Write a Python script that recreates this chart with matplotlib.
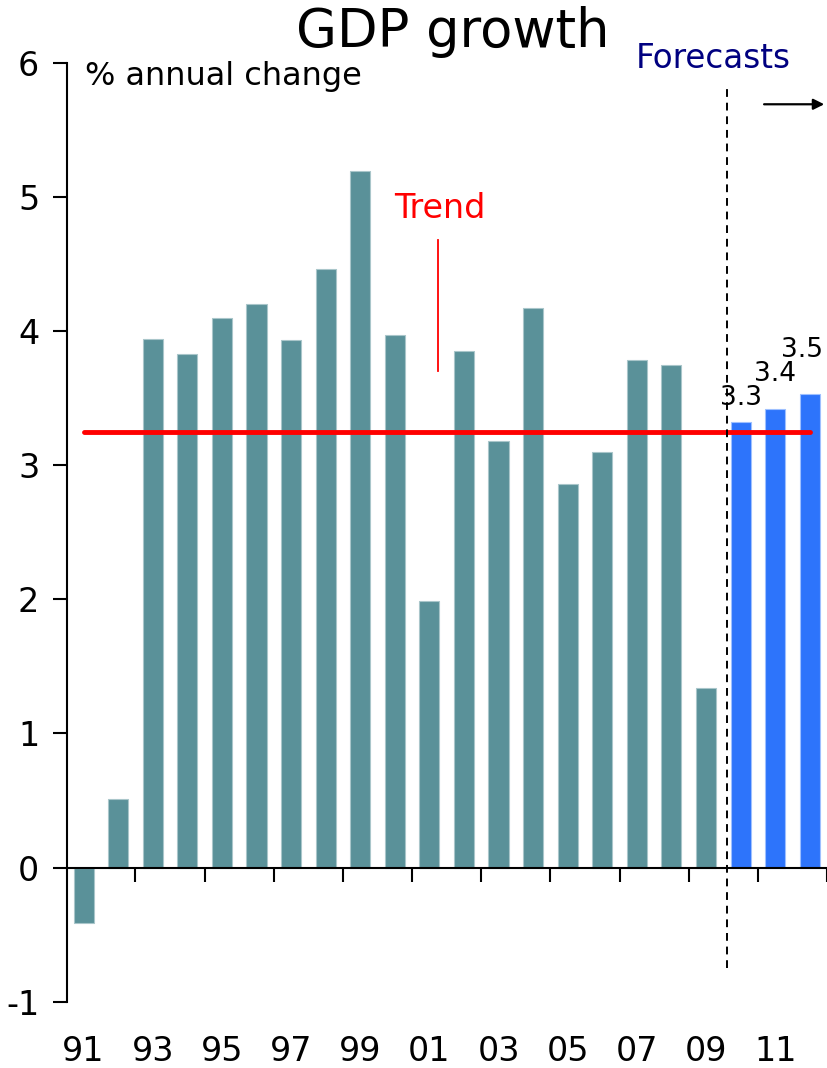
import numpy as np
import matplotlib.pyplot as plt
from matplotlib.transforms import blended_transform_factory

# ---- data ----
years = np.arange(1991, 2013)
growth = [-0.41, 0.51, 3.94, 3.83, 4.10, 4.20, 3.93, 4.46, 5.19, 3.97, 1.99,
          3.85, 3.18, 4.17, 2.86, 3.10, 3.78, 3.75, 1.34, 3.32, 3.42, 3.53]
forecast_from = 2010
forecast_labels = ["3.3", "3.4", "3.5"]
trend = 3.25
label_years = list(range(1991, 2013, 2))
label_text = ["%02d" % (y % 100) for y in label_years]
yticks = [-1, 0, 1, 2, 3, 4, 5, 6]

teal = "#5a9199"
blue = "#2d74fb"

fig = plt.figure(figsize=(8.27, 10.68), dpi=100)
ax = fig.add_axes([67 / 827, 0.0621, 1 - 67 / 827, 0.8792])

colors = [blue if y >= forecast_from else teal for y in years]
edges = ["#9ec0ff" if y >= forecast_from else "#a9c6ca" for y in years]
ax.bar(years, growth, width=0.58, color=colors, edgecolor=edges, linewidth=0.8, zorder=2)

# trend line
ax.plot([years[0], years[-1]], [trend, trend], color="red", lw=3.5, zorder=3,
        solid_capstyle="round")
ax.plot([2001.24, 2001.24], [3.70, 4.68], color="red", lw=1.3)
ax.text(2001.3, 4.91, "Trend", color="red", fontsize=24, ha="center", va="center")

# forecast marker
ax.plot([2009.62, 2009.62], [-0.75, 5.82], color="black", lw=1.4, ls=(0, (4, 3)), zorder=4)
ax.text(2009.22, 6.03, "Forecasts", color="#000080", fontsize=23.5, ha="center", va="center",
        clip_on=False)
ax.annotate("", xy=(2012.5, 5.69), xytext=(2010.6, 5.69),
            arrowprops=dict(arrowstyle="-|>", color="black", lw=1.6, mutation_scale=16),
            annotation_clip=False)

# forecast value labels, staggered upward (last one pulled in to stay on the page)
for y, v, s, ha, dx, dy in zip(years[-3:], growth[-3:], forecast_labels,
                               ["center", "center", "right"], [0, 0, 0.38],
                               [0.18, 0.26, 0.33]):
    ax.text(y + dx, v + dy, s, fontsize=19, ha=ha, va="center", clip_on=False)

ax.text(1991.05, 5.9, "% annual change", fontsize=23, ha="left", va="center")

# axes styling
ax.set_xlim(1990.52, 2012.5)
ax.set_ylim(-1, 6)
ax.spines["top"].set_visible(False)
ax.spines["right"].set_visible(False)
ax.spines["bottom"].set_position(("data", 0))
ax.spines["left"].set_linewidth(1.5)
ax.spines["bottom"].set_linewidth(1.5)
ax.spines["bottom"].set_zorder(5)

ax.set_yticks(yticks)
ax.set_yticklabels([str(t) for t in yticks])
ax.tick_params(axis="y", length=10, width=1.5, labelsize=24, pad=10)

ax.set_xticks(np.arange(1992.5, 2012.6, 2))
ax.set_xticklabels([])
ax.tick_params(axis="x", length=10, width=1.5, direction="out")

tr = blended_transform_factory(ax.transData, ax.transAxes)
for y, s in zip(label_years, label_text):
    ax.text(y, -0.053, s, transform=tr, fontsize=24, ha="center", va="center")

fig.text(453 / 827, 1 - 32 / 1068, "GDP growth", fontsize=38, ha="center", va="center")

fig.savefig("out.png", dpi=100)
